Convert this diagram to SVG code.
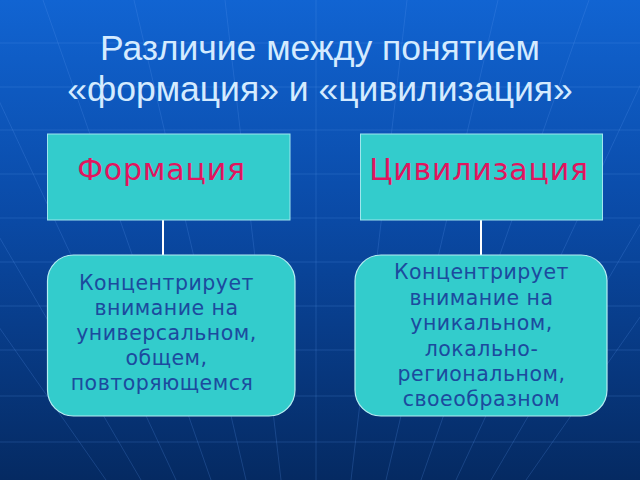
<svg xmlns="http://www.w3.org/2000/svg" width="640" height="480" viewBox="0 0 640 480">
  <defs>
    <linearGradient id="bg" x1="0" y1="0" x2="0" y2="1">
      <stop offset="0" stop-color="#1164d2"/>
      <stop offset="0.45" stop-color="#0a4aa6"/>
      <stop offset="1" stop-color="#052a62"/>
    </linearGradient>
    <style>
      .grid { stroke: #5f9cf0; stroke-opacity: 0.22; stroke-width: 1; fill: none; }
      .title { font-family: "Liberation Sans", Arial, sans-serif; font-size: 35.5px; fill: #d4ebff; text-anchor: middle; }
      .hbox { fill: #33cccc; stroke: #9fe6ee; stroke-width: 1; }
      .rbox { fill: #33cccc; stroke: #b5eef2; stroke-width: 1.2; }
      .head { font-family: "DejaVu Sans", Verdana, sans-serif; font-size: 30px; letter-spacing: 0.8px; fill: #e2145e; text-anchor: middle; }
      .body { font-family: "DejaVu Sans", Verdana, sans-serif; font-size: 20.5px; letter-spacing: 0.5px; fill: #1c4a9e; text-anchor: middle; }
      .conn { stroke: #ffffff; stroke-width: 2; }
    </style>
  </defs>
  <rect x="0" y="0" width="640" height="480" fill="url(#bg)"/>
  <g id="background-grid">
    <path class="grid" d="M0 43H640M0 87H640M0 130H640M0 174H640M0 218H640M0 262H640M0 306H640M0 350H640M0 396H640M0 442H640"/>
    <path class="grid" d="M316 0V480"/>
    <path class="grid" d="M407 0L351 480M225 0L281 480"/>
    <path class="grid" d="M498 0L386 480M134 0L246 480"/>
    <path class="grid" d="M589 0L421 480M43 0L211 480"/>
    <path class="grid" d="M680 0L456 480M-48 0L176 480"/>
    <path class="grid" d="M771 0L491 480M-139 0L141 480"/>
    <path class="grid" d="M862 0L526 480M-230 0L106 480"/>
  </g>
  <g id="title">
    <text class="title" x="320" y="60">Различие между понятием</text>
    <text class="title" x="320" y="101">«формация» и «цивилизация»</text>
  </g>
  <g id="connectors">
    <line class="conn" x1="163" y1="220" x2="163" y2="256"/>
    <line class="conn" x1="481" y1="220" x2="481" y2="256"/>
  </g>
  <g id="node-formation">
    <rect class="hbox" x="47.5" y="134" width="242.5" height="86"/>
    <text class="head" x="161.5" y="180">Формация</text>
  </g>
  <g id="node-civilization">
    <rect class="hbox" x="360.5" y="134" width="242" height="86"/>
    <text class="head" x="479" y="180">Цивилизация</text>
  </g>
  <g id="node-formation-desc">
    <rect class="rbox" x="47.5" y="255" width="247.5" height="161" rx="26" ry="26"/>
    <text class="body" x="166.5" y="290">Концентрирует</text>
    <text class="body" x="166.5" y="315">внимание на</text>
    <text class="body" x="166.5" y="340">универсальном,</text>
    <text class="body" x="166.5" y="365">общем,</text>
    <text class="body" x="162" y="390">повторяющемся</text>
  </g>
  <g id="node-civilization-desc">
    <rect class="rbox" x="355" y="255" width="252" height="161" rx="26" ry="26"/>
    <text class="body" x="481.5" y="279">Концентрирует</text>
    <text class="body" x="481.5" y="305">внимание на</text>
    <text class="body" x="481.5" y="330">уникальном,</text>
    <text class="body" x="481.5" y="356">локально-</text>
    <text class="body" x="481.5" y="381">региональном,</text>
    <text class="body" x="481.5" y="406">своеобразном</text>
  </g>
</svg>
